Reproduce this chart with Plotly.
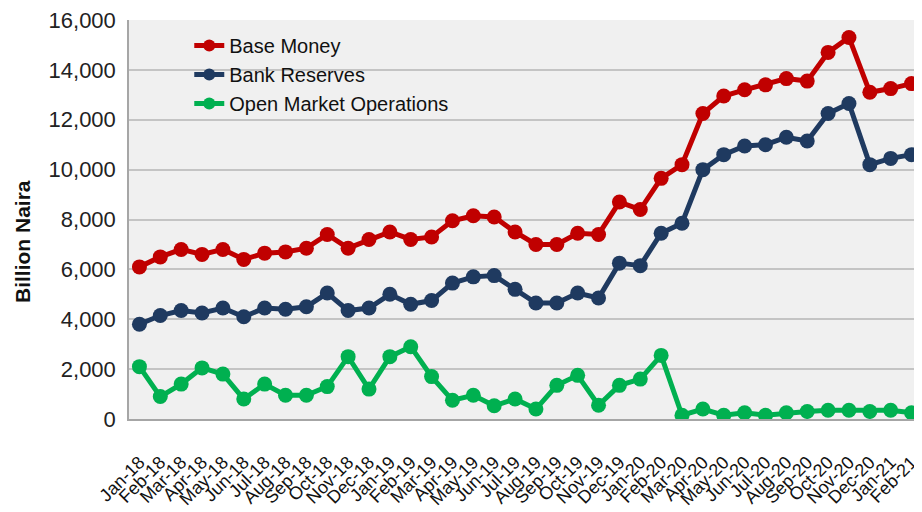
import plotly.graph_objects as go

months = ["Jan-18","Feb-18","Mar-18","Apr-18","May-18","Jun-18","Jul-18","Aug-18","Sep-18","Oct-18","Nov-18","Dec-18",
          "Jan-19","Feb-19","Mar-19","Apr-19","May-19","Jun-19","Jul-19","Aug-19","Sep-19","Oct-19","Nov-19","Dec-19",
          "Jan-20","Feb-20","Mar-20","Apr-20","May-20","Jun-20","Jul-20","Aug-20","Sep-20","Oct-20","Nov-20","Dec-20",
          "Jan-21","Feb-21"]

base_money = [6100, 6500, 6800, 6600, 6800, 6400, 6650, 6700, 6850, 7400, 6850, 7200,
              7500, 7200, 7300, 7950, 8150, 8100, 7500, 7000, 7000, 7450, 7400, 8700,
              8400, 9650, 10200, 12250, 12950, 13200, 13400, 13650, 13550, 14700, 15300, 13100,
              13250, 13450]

bank_reserves = [3800, 4150, 4350, 4250, 4450, 4100, 4450, 4400, 4500, 5050, 4350, 4450,
                 5000, 4600, 4750, 5450, 5700, 5750, 5200, 4650, 4650, 5050, 4850, 6250,
                 6150, 7450, 7850, 10000, 10600, 10950, 11000, 11300, 11150, 12250, 12650, 10200,
                 10450, 10600]

omo = [2100, 900, 1400, 2050, 1800, 800, 1400, 950, 950, 1300, 2500, 1200,
       2500, 2900, 1700, 750, 950, 530, 800, 400, 1350, 1750, 550, 1350,
       1600, 2550, 150, 400, 150, 250, 150, 250, 300, 350, 350, 300,
       350, 250]

series = [
    ("Base Money", base_money, "#c00000"),
    ("Bank Reserves", bank_reserves, "#1f3a60"),
    ("Open Market Operations", omo, "#00b050"),
]

fig = go.Figure()
for name, vals, col in series:
    fig.add_trace(go.Scatter(
        x=months, y=vals, name=name, mode="lines+markers",
        line=dict(color=col, width=5),
        marker=dict(color=col, size=15, symbol="circle"),
        cliponaxis=True,
    ))

font_family = "Liberation Sans, Arial, sans-serif"

# page body adds an 8px offset; figure sized to fill the rest of the window
fig.update_layout(
    width=914, height=504,
    margin=dict(l=121, r=0, t=12, b=93, autoexpand=False),
    paper_bgcolor="white",
    plot_bgcolor="#f0f0f0",
    font=dict(family=font_family, color="#1a1a1a"),
    showlegend=True,
    legend=dict(
        x=0.076, y=0.985, xanchor="left", yanchor="top",
        bgcolor="rgba(0,0,0,0)", font=dict(size=20, family=font_family, color="#111"),
        tracegroupgap=0, itemsizing="constant",
    ),
    annotations=[dict(
        text="<b>Billion Naira</b>", textangle=-90,
        xref="paper", yref="paper", x=-0.135, y=0.446,
        xanchor="center", yanchor="middle", showarrow=False,
        font=dict(size=21, family=font_family, color="#111"),
    )],
)

fig.update_xaxes(
    type="category", range=[-0.5, 37.5],
    tickmode="array", tickvals=months, ticktext=months,
    tickangle=-45, tickfont=dict(size=18, family=font_family, color="#111"),
    showgrid=False, showline=True, linecolor="#a6a6a6", linewidth=1.5,
    ticks="", ticklabelstandoff=24, automargin=False,
)
fig.update_yaxes(
    range=[0, 16000], dtick=2000, tickformat=",d",
    tickfont=dict(size=22, family=font_family, color="#222"),
    showgrid=True, gridcolor="#c4c4c4", gridwidth=1.5,
    showline=True, linecolor="#a6a6a6", linewidth=1.5,
    zeroline=False, ticks="", ticklabelstandoff=7, automargin=False,
    ticklabeloverflow="allow",
)

fig.write_html("out.html")
